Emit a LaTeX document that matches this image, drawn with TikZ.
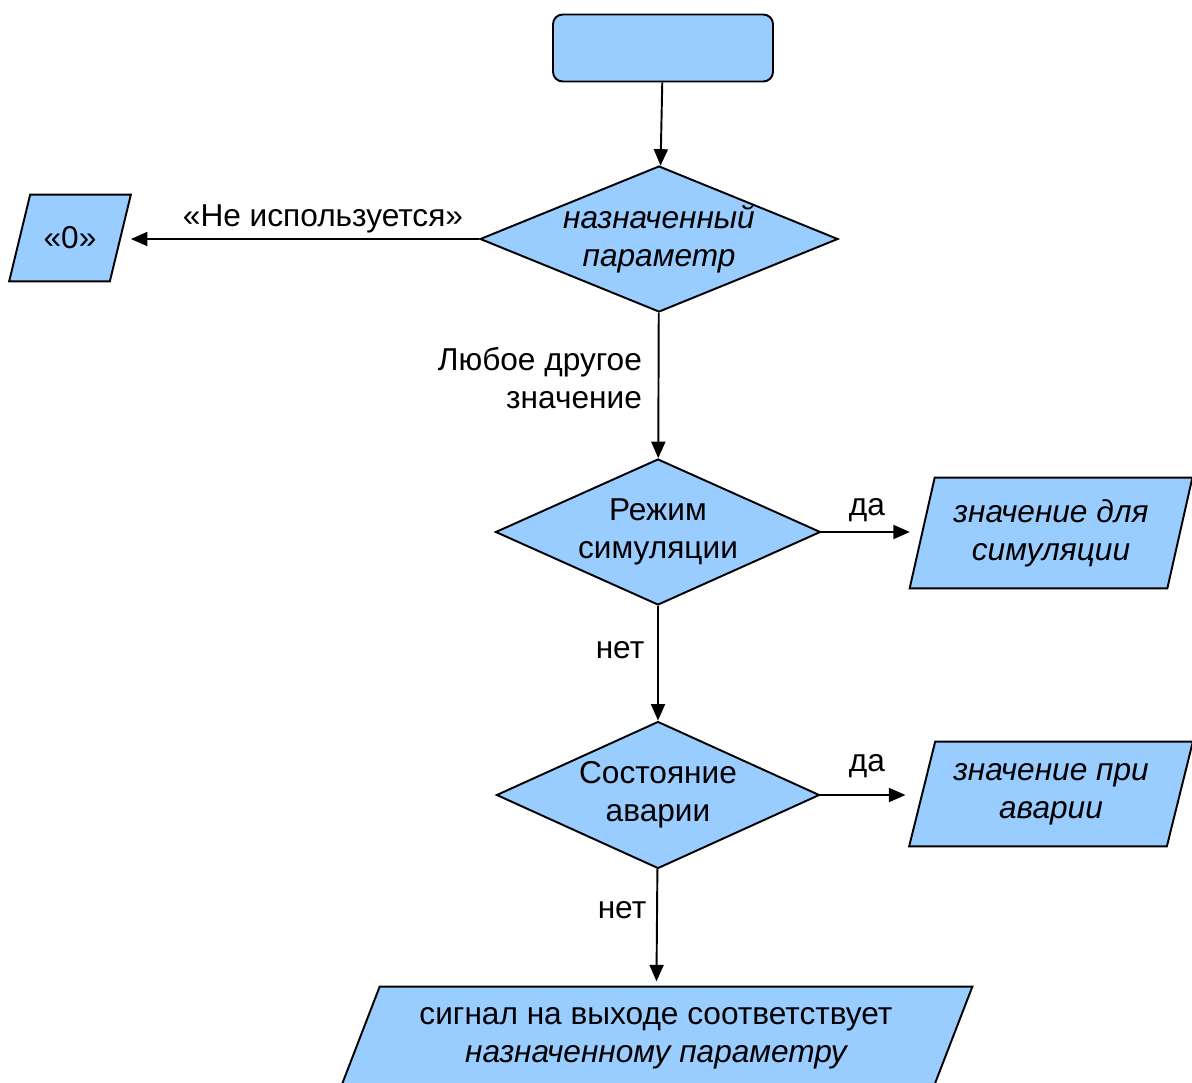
\documentclass[tikz,border=0pt]{standalone}
\usepackage{fontspec}
\setmainfont{Liberation Sans}
\usetikzlibrary{arrows.meta,positioning,shapes.geometric,backgrounds}
\definecolor{boxfill}{HTML}{99CCFF}
\definecolor{ink}{HTML}{000000}
\tikzset{
  font=\fontsize{18}{21.5}\selectfont,
  shape base/.style={draw=ink, fill=boxfill, line width=1.1pt, align=center, inner sep=0pt, text=ink},
  startbox/.style={shape base, rounded corners=5.5pt, minimum width=4.4cm, minimum height=1.34cm},
  decision/.style={shape base, diamond, aspect=#1, minimum height=2.92cm},
  io/.style={rectangle, align=center, inner sep=0pt, text=ink},
  iofill/.style={draw=ink, fill=boxfill, line width=1.1pt, line join=miter},
  arrow/.style={-{Triangle[length=3.3mm, width=2.8mm]}, draw=ink, line width=1.1pt},
  tag/.style={text=ink, inner sep=1pt},
}
\begin{document}
\begin{tikzpicture}
\useasboundingbox (0,0) rectangle (23.84,-21.64);
% main column
\node[startbox] (start) at (13.26,-0.96) {};
\node[decision=2.45, minimum width=7.16cm] (param) at (13.18,-4.78) {\itshape назначенный\\\itshape параметр};
\node[decision=2.23, minimum width=6.5cm] (sim) at (13.16,-10.64) {Режим\\симуляции};
\node[decision=2.2, minimum width=6.46cm, minimum height=2.94cm] (alarm) at (13.16,-15.9) {Состояние\\аварии};
\node[io, minimum width=11.84cm, minimum height=2.06cm] (out) at (13.12,-20.77) {сигнал на выходе соответствует\\\itshape назначенному параметру};
% side outputs
\node[io, minimum width=2.0cm, minimum height=1.72cm] (zero) at (1.40,-4.76) {«0»};
\node[io, minimum width=5.14cm, minimum height=2.2cm] (simval) at (21.02,-10.66) {\itshape значение для\\\itshape симуляции};
\node[io, minimum width=5.14cm, minimum height=2.08cm] (alarmval) at (21.02,-15.88) {\itshape значение при\\\itshape аварии};

% slanted outlines behind the text
\begin{scope}[on background layer]
\foreach \n/\s in {zero/0.21cm, simval/0.25cm, alarmval/0.26cm, out/0.4cm}
  \draw[iofill] ([xshift=\s]\n.north west) -- ([xshift=\s]\n.north east)
    -- ([xshift=-\s]\n.south east) -- ([xshift=-\s]\n.south west) -- cycle;
\end{scope}

\draw[arrow] (start) -- (param);
\draw[arrow, shorten >=6pt] (param.west) -- (param.west -| zero.east);
\draw[arrow] (param) -- (sim);
\draw[arrow, shorten >=7pt] (sim.east) -- (sim.east -| simval.west);
\draw[arrow] (sim) -- (alarm);
\draw[arrow, shorten >=9.5pt] (alarm.east) -- (alarm.east -| alarmval.west);
\draw[arrow, shorten >=3pt] (alarm) -- (out);

% connector labels
\node[tag] (unused) at (6.46,-4.37) {«Не используется»};
\node[tag, anchor=east, align=right] (other) at (12.88,-7.56) {Любое другое\\значение};
\node[tag] (yes1) at (17.34,-10.2) {да};
\node[tag] (no1) at (12.40,-13.0) {нет};
\node[tag] (yes2) at (17.34,-15.32) {да};
\node[tag] (no2) at (12.44,-18.2) {нет};
\end{tikzpicture}
\end{document}
